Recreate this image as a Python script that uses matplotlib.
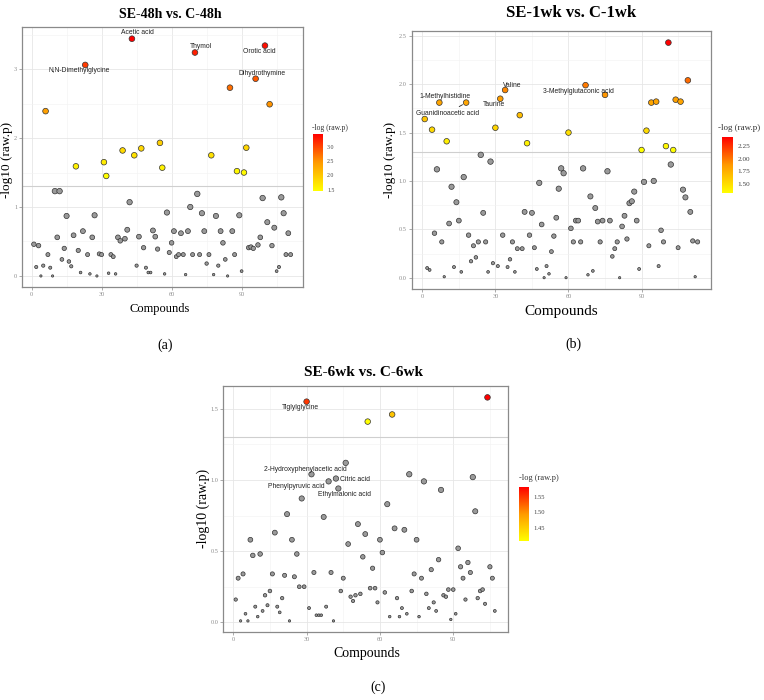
import numpy as np
import matplotlib
matplotlib.use("Agg")
import matplotlib.pyplot as plt
from matplotlib.colors import LinearSegmentedColormap, Normalize
from matplotlib.cm import ScalarMappable
from matplotlib.ticker import MultipleLocator

# ---------------- data ----------------
titles = ["SE-48h vs. C-48h", "SE-1wk vs. C-1wk", "SE-6wk vs. C-6wk"]
panel_tags = ["(a)", "(b)", "(c)"]

ya = [0.46,0.13,0.44,0.0,0.15,2.39,0.31,0.12,0.0,1.23, 0.56,1.23,0.24,0.40,0.87,0.21,0.14,0.59,1.59,0.37,
      0.05,0.65,3.06,0.31,0.03,0.56,0.88,0.0,0.32,0.31, 1.65,1.45,0.04,0.31,0.28,0.03,0.56,0.51,1.82,0.54,
      0.67,1.07,3.44,1.75,0.15,0.57,1.85,0.41,0.12,0.05, 0.05,0.66,0.57,0.39,1.93,1.57,0.03,0.92,0.34,0.48,
      0.65,0.28,0.31,0.62,0.31,0.02,0.65,1.0,0.31,3.24, 1.19,0.31,0.91,0.65,0.18,0.31,1.75,0.02,0.87,0.15,
      0.65,0.48,0.24,0.0,2.73,0.65,0.31,1.52,0.88,0.07, 1.50,1.86,0.41,0.42,0.40,2.86,0.45,0.56,1.13,3.34,
      0.78,2.49,0.44,0.70,0.07,0.13,1.14,0.91,0.31,0.62, 0.31]

yb = [1.64,0.10,0.08,1.53,0.46,1.12,1.81,0.37,0.01,1.41, 0.56,0.94,0.11,0.78,0.59,0.06,1.04,1.81,0.44,0.17,
      0.33,0.21,0.37,1.27,0.67,0.37,0.06,1.20,0.15,1.55, 0.12,1.85,0.44,1.94,0.11,0.19,0.37,0.06,0.30,1.68,
      0.30,0.68,1.39,0.44,0.67,0.31,0.09,0.98,0.55,0.0, 0.12,0.04,0.27,0.43,0.62,0.92,1.13,1.08,0.0,1.50,
      0.51,0.37,0.59,0.59,0.37,1.13,1.99,0.03,0.84,0.07, 0.72,0.58,0.37,0.59,1.89,1.10,0.59,0.22,0.30,0.37,
      0.0,0.53,0.64,0.40,0.77,0.79,0.89,0.59,0.09,1.32, 0.99,1.52,0.33,1.81,1.0,1.82,0.12,0.49,0.37,1.36,
      2.43,1.17,1.32,1.84,0.31,1.82,0.91,0.83,2.04,0.68, 0.38,0.01,0.37]

yc = [0.16,0.31,0.01,0.34,0.06,0.01,0.58,0.47,0.11,0.04, 0.48,0.08,0.19,0.12,0.22,0.34,0.63,0.11,0.07,0.17,
      0.33,0.76,0.01,0.58,0.32,0.48,0.25,0.87,0.25,1.55, 0.10,1.04,0.35,0.05,0.05,0.05,0.74,0.11,0.99,0.35,
      0.01,1.01,0.94,0.22,0.31,1.12,0.55,0.18,0.15,0.19, 0.69,0.20,0.46,0.62,1.41,0.24,0.38,0.24,0.14,0.58,
      0.49,0.21,0.83,0.04,1.46,0.66,0.17,0.04,0.10,0.65, 0.06,1.04,0.22,0.34,0.58,0.04,0.31,0.99,0.20,0.10,
      0.37,0.14,0.08,0.44,0.93,0.19,0.18,0.23,0.02,0.23, 0.06,0.52,0.39,0.31,0.16,0.42,0.35,1.02,0.78,0.17,
      0.22,0.23,0.13,1.58,0.39,0.31,0.08]

# labelled compounds: (index, name)
labels_a = [(43, "Acetic acid"), (23, "N,N-Dimethylglycine"), (70, "Thymol"),
            (100, "Orotic acid"), (96, "Dihydrothymine")]
labels_b = [(34, "Valine"), (7, "1-Methylhistidine"), (32, "Taurine"),
            (18, "Guanidinoacetic acid"), (67, "3-Methylglutaconic acid")]
labels_c = [(30, "Tiglylglycine"), (32, "2-Hydroxyphenylacetic acid"), (42, "Citric acid"),
            (39, "Phenylpyruvic acid"), (43, "Ethylmalonic acid")]

threshold = 1.3

# ---------------- style ----------------
offsets_a = [(6, 6), (-6, -6), (6, 6), (-6, -6), (6, 5)]
offsets_b = [(7, 5), (6, 6), (-6, -6), (-19, -11), (-7, -6)]
offsets_c = [(-6, -6), (-6, 5), (19, -1), (-32, -5), (6, -6)]
arrow_b = [False, False, False, True, False]

W, H = 764, 700
fig = plt.figure(figsize=(W / 100, H / 100), dpi=100)

def fr(l, t, r, b):
    return [l / W, 1 - b / H, (r - l) / W, (b - t) / H]

cmap = LinearSegmentedColormap.from_list("yr", ["#FFFF00", "#FF9A00", "#FF0000"])
SERIF = "Liberation Serif"
SANS = "Liberation Sans"

panels = [
    dict(y=ya, labels=labels_a, offs=offsets_a, arrows=[False] * 5,
         ax=fr(22, 27, 303, 287), cax=fr(313, 134, 323, 191),
         xlim=(-4.1, 116.3), ylim=(-0.16, 3.61), ymaj=1, ymin=0.5, yfmt="%g",
         cbt=[1.5, 2.0, 2.5, 3.0], cbfmt="%.1f",
         title_xy=(170, 14), title_fs=10, xl_xy=(160, 309), xl_fs=9,
         yl_xy=(7, 160), yl_fs=9.5, tag_xy=(165, 345), cbtitle_xy=(312, 128), cbfs=5.5),
    dict(y=yb, labels=labels_b, offs=offsets_b, arrows=arrow_b,
         ax=fr(411.7, 31, 711, 289.3), cax=fr(722, 137, 733, 193.3),
         xlim=(-4.35, 118.5), ylim=(-0.12, 2.55), ymaj=0.5, ymin=0.25, yfmt="%.1f",
         cbt=[1.5, 1.75, 2.0, 2.25], cbfmt="%.2f",
         title_xy=(571, 13), title_fs=12, xl_xy=(561, 312), xl_fs=11,
         yl_xy=(390, 160), yl_fs=9.5, tag_xy=(573, 344), cbtitle_xy=(718, 128), cbfs=6.5),
    dict(y=yc, labels=labels_c, offs=offsets_c, arrows=[False] * 5,
         ax=fr(223, 386, 508, 632), cax=fr(519, 487, 529, 541),
         xlim=(-4.2, 112.4), ylim=(-0.068, 1.66), ymaj=0.5, ymin=0.25, yfmt="%.1f",
         cbt=[1.45, 1.50, 1.55], cbfmt="%.2f",
         title_xy=(364, 372), title_fs=11, xl_xy=(367, 653), xl_fs=10,
         yl_xy=(203, 508), yl_fs=10, tag_xy=(378, 687), cbtitle_xy=(519, 478), cbfs=6),
]

for p, title, tag in zip(panels, titles, panel_tags):
    y = np.asarray(p["y"], dtype=float)
    x = np.arange(1, len(y) + 1)
    ax = fig.add_axes(p["ax"])
    ax.set_xlim(*p["xlim"])
    ax.set_ylim(*p["ylim"])
    ax.xaxis.set_major_locator(MultipleLocator(30))
    ax.xaxis.set_minor_locator(MultipleLocator(15))
    ax.yaxis.set_major_locator(MultipleLocator(p["ymaj"]))
    ax.yaxis.set_minor_locator(MultipleLocator(p["ymin"]))
    ax.yaxis.set_major_formatter(plt.FormatStrFormatter(p["yfmt"]))
    ax.grid(which="major", color="#E6E6E6", lw=0.6)
    ax.grid(which="minor", color="#F2F2F2", lw=0.4)
    ax.set_axisbelow(True)
    ax.tick_params(which="major", labelsize=4.5, labelcolor="#8A8A8A", color="#8A8A8A",
                   length=2, width=0.5, pad=1.5)
    ax.tick_params(which="minor", length=0)
    for s in ax.spines.values():
        s.set_color("#8A8A8A")
        s.set_linewidth(0.9)
    for lab in ax.get_xticklabels() + ax.get_yticklabels():
        lab.set_family(SERIF)
    ax.axhline(threshold, color="#CFCFCF", lw=0.8, zorder=1)

    sig = y >= threshold
    norm = Normalize(vmin=y[sig].min(), vmax=y[sig].max())
    d_px = 2.3 + 3.4 * (1 - 10 ** (-y))
    sizes = (d_px * 0.72) ** 2
    ax.scatter(x[~sig], y[~sig], s=sizes[~sig], c="#9A9A9A", edgecolors="#333333",
               linewidths=0.5, zorder=3)
    ax.scatter(x[sig], y[sig], s=sizes[sig], c=cmap(norm(y[sig])), edgecolors="#333333",
               linewidths=0.5, zorder=4)

    for (idx, name), off, arr in zip(p["labels"], p["offs"], p["arrows"]):
        kw = {}
        if arr:
            kw["arrowprops"] = dict(arrowstyle="-", lw=0.6, color="#222222",
                                    shrinkA=1, shrinkB=3)
        ax.annotate(name, xy=(idx, y[idx - 1]), xytext=off, textcoords="offset pixels",
                    ha="center", va="center", fontsize=4.9, family=SANS,
                    color="#222222", zorder=5, **kw)

    # colorbar
    cax = fig.add_axes(p["cax"])
    sm = ScalarMappable(norm=norm, cmap=cmap)
    cb = fig.colorbar(sm, cax=cax, ticks=p["cbt"])
    cb.outline.set_visible(False)
    cb.ax.tick_params(length=0, labelsize=p["cbfs"] - 1.3, pad=3, labelcolor="#444444")
    cb.ax.yaxis.set_major_formatter(plt.FormatStrFormatter(p["cbfmt"]))
    for lab in cb.ax.get_yticklabels():
        lab.set_family(SERIF)
    fig.text(p["cbtitle_xy"][0] / W, 1 - p["cbtitle_xy"][1] / H, "-log (raw.p)",
             fontsize=p["cbfs"], family=SERIF, ha="left", va="center", color="#333333")

    # texts
    fig.text(p["title_xy"][0] / W, 1 - p["title_xy"][1] / H, title, fontsize=p["title_fs"],
             family=SERIF, weight="bold", ha="center", va="center")
    fig.text(p["xl_xy"][0] / W, 1 - p["xl_xy"][1] / H, "Compounds", fontsize=p["xl_fs"],
             family=SERIF, ha="center", va="center")
    fig.text(p["yl_xy"][0] / W, 1 - p["yl_xy"][1] / H, "-log10 (raw.p)", fontsize=p["yl_fs"],
             family=SERIF, ha="center", va="center", rotation=90)
    fig.text(p["tag_xy"][0] / W, 1 - p["tag_xy"][1] / H, tag, fontsize=10,
             family=SERIF, ha="center", va="center")

fig.savefig("out.png", dpi=100, facecolor="white")
